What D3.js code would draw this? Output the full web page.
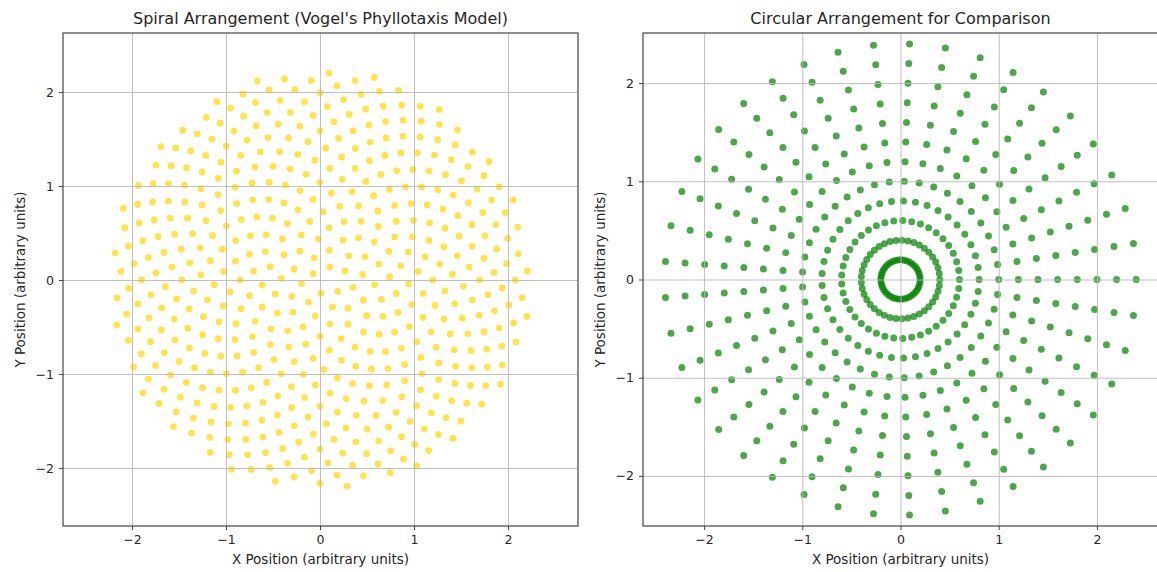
<!DOCTYPE html>
<html>
<head>
<meta charset="utf-8">
<script src="https://cdn.jsdelivr.net/npm/d3@7.9.0/dist/d3.min.js"></script>
<style>
  body { margin: 0; background: #fff; }
  svg text { font-family: "DejaVu Sans", sans-serif; fill: #262626; }
</style>
</head>
<body>
<svg id="chart" width="1157" height="572"></svg>
<script>
// Vogel spiral model: count, scale and divergence angle
const spiralCount = 500;
const spiralScale = 0.1;
const divergenceDeg = 137.5;

// circular comparison: ring radii and points on each ring
const ringRadii = [0.2, 0.4, 0.6, 0.8, 1.0, 1.2, 1.4, 1.6, 1.8, 2.0, 2.2, 2.4];
const pointsPerRing = 41;

const tickValues = [-2, -1, 0, 1, 2];
const titles = ["Spiral Arrangement (Vogel's Phyllotaxis Model)", 'Circular Arrangement for Comparison'];
const xLabel = 'X Position (arbitrary units)';
const yLabel = 'Y Position (arbitrary units)';

// seeds numbered 1..500
const spiral = d3.range(1, spiralCount + 1).map(n => {
  const r = spiralScale * Math.sqrt(n);
  const t = n * divergenceDeg * Math.PI / 180;
  return [r * Math.cos(t), r * Math.sin(t)];
});

const rings = [];
ringRadii.forEach(r => {
  d3.range(pointsPerRing).forEach(k => {
    const t = k * 2 * Math.PI / pointsPerRing;
    rings.push([r * Math.cos(t), r * Math.sin(t)]);
  });
});

const panels = [
  { left: 63, right: 578, top: 33, bottom: 526, xDom: [-2.734, 2.745], yDom: [-2.617, 2.628],
    data: spiral, color: '#ffd700', opacity: 0.7, radius: 3.4, title: titles[0] },
  { left: 643, right: 1158, top: 33, bottom: 526, xDom: [-2.622, 2.622], yDom: [-2.51, 2.51],
    data: rings, color: 'green', opacity: 0.7, radius: 3.5, title: titles[1] }
];

const svg = d3.select('#chart');
const fmt = d => d < 0 ? '\u2212' + Math.abs(d) : String(d);

panels.forEach(p => {
  const x = d3.scaleLinear().domain(p.xDom).range([p.left, p.right]);
  const y = d3.scaleLinear().domain(p.yDom).range([p.bottom, p.top]);
  const g = svg.append('g');

  g.append('g')
    .selectAll('circle')
    .data(p.data)
    .join('circle')
    .attr('cx', d => x(d[0]))
    .attr('cy', d => y(d[1]))
    .attr('r', p.radius)
    .attr('fill', p.color)
    .attr('fill-opacity', p.opacity);

  // grid
  g.append('g')
    .attr('transform', `translate(0,${p.bottom})`)
    .call(d3.axisBottom(x).tickValues(tickValues).tickSize(-(p.bottom - p.top)).tickFormat(''))
    .call(a => a.select('.domain').remove())
    .selectAll('line').attr('stroke', '#b8b8b8').attr('stroke-width', 0.9);
  g.append('g')
    .attr('transform', `translate(${p.left},0)`)
    .call(d3.axisLeft(y).tickValues(tickValues).tickSize(-(p.right - p.left)).tickFormat(''))
    .call(a => a.select('.domain').remove())
    .selectAll('line').attr('stroke', '#b8b8b8').attr('stroke-width', 0.9);

  const xa = g.append('g')
    .attr('transform', `translate(0,${p.bottom})`)
    .call(d3.axisBottom(x).tickValues(tickValues).tickSize(4).tickPadding(5).tickFormat(fmt));
  const ya = g.append('g')
    .attr('transform', `translate(${p.left},0)`)
    .call(d3.axisLeft(y).tickValues(tickValues).tickSize(4).tickPadding(5).tickFormat(fmt));
  [xa, ya].forEach(a => {
    a.select('.domain').remove();
    a.selectAll('line').attr('stroke', '#444');
    a.selectAll('text').attr('font-size', 12.5).attr('font-family', '"DejaVu Sans", sans-serif').attr('fill', '#262626');
  });

  g.append('rect')
    .attr('x', p.left).attr('y', p.top)
    .attr('width', p.right - p.left).attr('height', p.bottom - p.top)
    .attr('fill', 'none').attr('stroke', '#444').attr('stroke-width', 1.2);

  g.append('text')
    .attr('x', (p.left + p.right) / 2).attr('y', p.top - 9)
    .attr('text-anchor', 'middle').attr('font-size', 16)
    .text(p.title);

  g.append('text')
    .attr('x', (p.left + p.right) / 2).attr('y', p.bottom + 38)
    .attr('text-anchor', 'middle').attr('font-size', 13.5)
    .text(xLabel);

  g.append('text')
    .attr('transform', `translate(${p.left - 38},${(p.top + p.bottom) / 2}) rotate(-90)`)
    .attr('text-anchor', 'middle').attr('font-size', 13.5)
    .text(yLabel);
});
</script>
</body>
</html>
